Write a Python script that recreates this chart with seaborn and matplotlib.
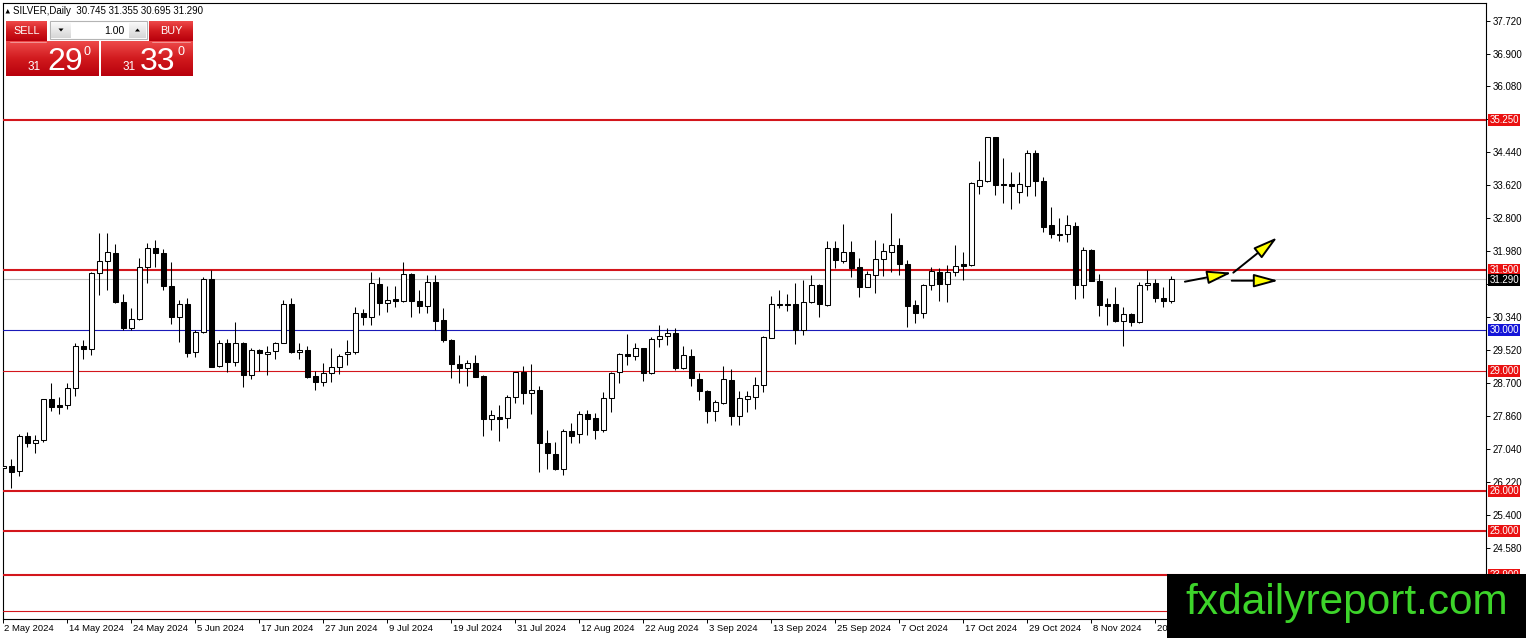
import numpy as np
import matplotlib
matplotlib.use("Agg")
import matplotlib.pyplot as plt
import matplotlib.transforms as mtransforms
from matplotlib.patches import Rectangle, Polygon
from matplotlib.colors import LinearSegmentedColormap
import seaborn as sns

# ---------------- data ----------------
opens = [26.58, 26.62, 26.50, 27.38, 27.19, 27.27, 28.28, 28.13, 28.13, 28.56,
         29.61, 29.53, 31.44, 31.74, 31.92, 30.72, 30.05, 30.29, 31.59, 32.05,
         31.92, 31.11, 30.34, 30.67, 29.45, 29.95, 31.28, 29.12, 29.68, 29.22,
         29.68, 28.90, 29.51, 29.40, 29.49, 29.69, 30.67, 29.45, 29.51, 28.86,
         28.71, 28.93, 29.09, 29.40, 29.47, 30.43, 30.34, 31.16, 30.69, 30.78,
         30.74, 31.41, 30.73, 30.62, 31.20, 30.26, 29.76, 29.16, 29.07, 29.18,
         28.86, 27.78, 27.85, 27.81, 28.33, 28.96, 28.45, 28.52, 27.20, 26.92,
         26.54, 27.49, 27.41, 27.92, 27.81, 27.52, 28.31, 28.97, 29.40, 29.37,
         29.55, 28.93, 29.78, 29.85, 29.93, 29.07, 29.36, 28.79, 28.50, 27.98,
         28.20, 28.76, 27.87, 28.28, 28.35, 28.64, 29.80, 30.67, 30.67, 30.65,
         30.01, 30.72, 31.13, 30.63, 32.05, 31.74, 31.96, 31.57, 31.09, 31.38,
         31.77, 31.96, 32.13, 31.65, 30.63, 30.43, 31.13, 31.46, 31.15, 31.45,
         31.65, 31.63, 33.61, 33.73, 34.81, 33.65, 33.64, 33.46, 33.61, 34.41,
         33.72, 32.63, 32.41, 32.40, 32.60, 31.12, 32.00, 31.22, 30.66, 30.65,
         30.24, 30.40, 30.20, 31.12, 31.17, 30.80, 30.745]
highs = [26.78, 26.79, 27.43, 27.46, 27.39, 28.30, 28.70, 28.35, 28.68, 29.69,
         29.76, 31.46, 32.44, 32.44, 32.15, 30.92, 30.55, 31.80, 32.17, 32.25,
         32.02, 31.71, 30.76, 30.82, 30.01, 31.32, 31.51, 29.76, 29.78, 30.22,
         29.70, 29.55, 29.53, 29.60, 29.72, 30.76, 30.80, 29.68, 29.61, 29.00,
         29.18, 29.55, 29.41, 29.76, 30.59, 30.53, 31.45, 31.34, 31.11, 31.11,
         31.70, 31.43, 31.02, 31.38, 31.38, 30.55, 29.78, 29.39, 29.26, 29.39,
         28.88, 28.02, 28.14, 28.38, 28.97, 29.11, 29.16, 28.62, 27.52, 27.23,
         27.54, 27.70, 27.99, 28.01, 27.93, 28.46, 28.97, 29.43, 29.90, 29.68,
         29.57, 29.83, 30.13, 30.05, 30.05, 29.61, 29.53, 28.93, 28.51, 28.27,
         29.11, 29.05, 28.49, 28.49, 28.83, 29.86, 30.86, 31.02, 30.92, 31.17,
         31.26, 31.38, 31.16, 32.24, 32.24, 32.65, 32.24, 31.80, 31.49, 32.25,
         32.17, 32.92, 32.30, 31.76, 30.76, 31.15, 31.59, 31.56, 31.63, 32.13,
         31.96, 33.69, 34.22, 34.81, 34.83, 34.29, 33.96, 33.96, 34.50, 34.50,
         33.83, 33.08, 32.81, 32.88, 32.71, 32.09, 32.03, 31.40, 30.80, 31.07,
         30.59, 30.43, 31.20, 31.51, 31.28, 31.07, 31.355]
lows = [26.05, 26.06, 26.38, 27.10, 26.95, 27.23, 28.00, 27.92, 28.05, 28.37,
        29.30, 29.39, 30.89, 31.01, 30.69, 30.01, 30.01, 30.27, 31.19, 31.59,
        31.01, 30.15, 29.72, 29.33, 29.33, 29.93, 29.08, 29.08, 28.97, 29.12,
        28.60, 28.78, 29.00, 28.89, 29.30, 29.68, 29.43, 29.30, 28.81, 28.52,
        28.62, 28.72, 28.91, 29.14, 29.41, 30.14, 30.14, 30.38, 30.47, 30.59,
        30.72, 30.34, 30.44, 30.44, 30.01, 29.70, 28.82, 28.70, 28.62, 28.83,
        27.37, 27.52, 27.25, 27.58, 28.20, 28.17, 27.91, 26.46, 26.55, 26.52,
        26.40, 27.20, 27.19, 27.39, 27.29, 27.46, 27.97, 28.68, 29.15, 29.26,
        28.75, 28.91, 29.59, 29.64, 29.01, 29.03, 28.62, 28.27, 27.69, 27.73,
        28.17, 27.64, 27.64, 27.97, 28.03, 28.47, 29.80, 30.55, 30.49, 29.66,
        29.89, 30.69, 30.33, 30.61, 31.55, 31.69, 31.32, 30.84, 31.07, 30.94,
        31.36, 31.46, 31.38, 30.08, 30.18, 30.32, 31.01, 30.74, 30.72, 31.36,
        31.26, 31.61, 33.39, 33.71, 33.38, 33.17, 33.03, 33.17, 33.36, 33.36,
        32.46, 32.30, 32.24, 32.21, 30.78, 30.82, 31.22, 30.37, 30.14, 30.22,
        29.62, 30.12, 30.18, 31.01, 30.72, 30.59, 30.695]
closes = [26.63, 26.48, 27.38, 27.19, 27.28, 28.28, 28.10, 28.10, 28.56, 29.60,
          29.53, 31.44, 31.74, 31.95, 30.72, 30.05, 30.29, 31.59, 32.05, 31.92,
          31.11, 30.34, 30.67, 29.43, 29.95, 31.28, 29.10, 29.68, 29.22, 29.68,
          28.90, 29.51, 29.43, 29.47, 29.69, 30.67, 29.47, 29.51, 28.85, 28.71,
          28.93, 29.08, 29.37, 29.47, 30.43, 30.34, 31.17, 30.69, 30.76, 30.73,
          31.41, 30.74, 30.62, 31.20, 30.24, 29.76, 29.16, 29.07, 29.18, 28.85,
          27.78, 27.88, 27.80, 28.33, 28.96, 28.45, 28.52, 27.19, 26.94, 26.54,
          27.49, 27.38, 27.92, 27.78, 27.52, 28.31, 28.95, 29.40, 29.37, 29.55,
          28.93, 29.78, 29.86, 29.93, 29.06, 29.39, 28.81, 28.50, 27.98, 28.21,
          28.78, 27.87, 28.31, 28.37, 28.64, 29.84, 30.65, 30.63, 30.63, 30.01,
          30.72, 31.13, 30.65, 32.05, 31.76, 31.96, 31.55, 31.09, 31.41, 31.77,
          31.98, 32.13, 31.65, 30.62, 30.43, 31.13, 31.48, 31.15, 31.45, 31.61,
          31.61, 33.67, 33.75, 34.81, 33.62, 33.62, 33.61, 33.64, 34.41, 33.73,
          32.59, 32.40, 32.38, 32.63, 31.12, 32.00, 31.24, 30.63, 30.62, 30.24,
          30.40, 30.20, 31.12, 31.17, 30.80, 30.74, 31.29]

date_tick_bars = [0, 8, 16, 24, 32, 40, 48, 56, 64, 72, 80, 88, 96, 104, 112,
                  120, 128, 136, 144]
date_tick_labels = ["2 May 2024", "14 May 2024", "24 May 2024", "5 Jun 2024",
                    "17 Jun 2024", "27 Jun 2024", "9 Jul 2024", "19 Jul 2024",
                    "31 Jul 2024", "12 Aug 2024", "22 Aug 2024", "3 Sep 2024",
                    "13 Sep 2024", "25 Sep 2024", "7 Oct 2024", "17 Oct 2024",
                    "29 Oct 2024", "8 Nov 2024", "20 Nov 2024"]
price_ticks = [37.72, 36.90, 36.08, 35.26, 34.44, 33.62, 32.80, 31.98, 31.16,
               30.34, 29.52, 28.70, 27.86, 27.04, 26.22, 25.40, 24.58, 23.76]
# tick labels that sit fully under a coloured price box are left blank
hidden_tick_labels = [35.26, 31.16, 23.76]

level_values = [35.25, 31.50, 30.00, 29.00, 26.00, 25.00, 23.90, 23.00]
level_kinds = ["red", "red", "blue", "red", "red", "red", "red", "red"]
level_thick = [True, True, False, False, True, True, True, False]
level_boxed = [True, True, True, True, True, True, True, False]

current_price = 31.29
header_text = "SILVER,Daily  30.745 31.355 30.695 31.290"
bid_parts = ("31", "29", "0")
ask_parts = ("31", "33", "0")
lot_text = "1.00"

# yellow arrows (bar index, price) start -> end
arrow_starts = [(147.7, 31.215), (153.75, 31.44), (153.55, 31.24)]
arrow_ends = [(153.55, 31.44), (159.25, 32.32), (159.38, 31.24)]

# ---------------- styling ----------------
sns.set_theme(style="white")
plt.rcParams["font.family"] = ["Liberation Sans", "DejaVu Sans"]

W_PX, H_PX = 1526, 638
fig = plt.figure(figsize=(W_PX / 100, H_PX / 100), dpi=100)
fig.patch.set_facecolor("white")

left_px, right_px, top_px, bottom_px = 2.5, 1486, 3, 619
ax = fig.add_axes([left_px / W_PX, 1 - bottom_px / H_PX,
                   (right_px - left_px) / W_PX, (bottom_px - top_px) / H_PX])
ax.set_facecolor("white")

n = len(opens)
x = np.arange(n)
o = np.array(opens); h = np.array(highs); l = np.array(lows); c = np.array(closes)
up = c >= o

# wicks
ax.vlines(x, l, h, color="black", linewidth=0.75, zorder=5)
# bodies
body_bottom = np.minimum(o, c)
body_height = np.maximum(np.abs(c - o), 0.012)
ax.bar(x, body_height, bottom=body_bottom, width=0.6,
       color=np.where(up, "white", "black"), edgecolor="black",
       linewidth=0.75, zorder=6)

# horizontal levels
LINE_COL = {"red": "#d3161c", "blue": "#1a1ab8"}
BOX_COL = {"red": "#ea1111", "blue": "#1414d8"}
for v, k, t in zip(level_values, level_kinds, level_thick):
    ax.axhline(v, color=LINE_COL[k], linewidth=1.5 if t else 0.8, zorder=3)
ax.axhline(current_price, color="#c0c0c0", linewidth=0.8, zorder=2)

# axes ranges (pixel-matched)
ax.set_xlim((left_px - 3.3) / 8, (right_px - 3.3) / 8)
ax.set_ylim(37.72 - (bottom_px - 20.7) / 40.12, 37.72 + (20.7 - top_px) / 40.12)

for s in ax.spines.values():
    s.set_color("black")
    s.set_linewidth(0.8)

# y axis on the right
ax.yaxis.tick_right()
ax.set_yticks(price_ticks)
ax.set_yticklabels(["" if v in hidden_tick_labels else f"{v:.3f}" for v in price_ticks])
ax.tick_params(axis="y", direction="out", length=3, width=0.7, pad=1.5,
               labelsize=7, colors="black", right=True, left=False)

# x axis
ax.set_xticks(date_tick_bars)
ax.set_xticklabels(date_tick_labels)
ax.tick_params(axis="x", direction="out", length=3, width=0.7, pad=0.5,
               labelsize=6.8, colors="black", bottom=True)
offset = mtransforms.ScaledTranslation(0.012, 0, fig.dpi_scale_trans)
for lab in ax.get_xticklabels():
    lab.set_horizontalalignment("left")
    lab.set_transform(lab.get_transform() + offset)
ax.grid(False)

# right-axis level labels
def axis_box(val, text, fc, dy=0.0):
    ax.annotate(text, xy=(1, val), xycoords=("axes fraction", "data"),
                xytext=(2.3, dy), textcoords="offset points", ha="left",
                va="center", fontsize=7, color="white", annotation_clip=False,
                bbox=dict(boxstyle="square,pad=0.1", fc=fc, ec="none"),
                zorder=30)

for v, k, b in zip(level_values, level_kinds, level_boxed):
    if b:
        axis_box(v, f"{v:.3f}", BOX_COL[k])
axis_box(current_price, f"{current_price:.3f}", "black", dy=-0.8)

# yellow arrows
for s0, e0 in zip(arrow_starts, arrow_ends):
    ax.annotate("", xy=e0, xytext=s0, annotation_clip=False,
                arrowprops=dict(arrowstyle="-|>,head_length=1.25,head_width=0.34",
                                lw=1.4, ec="black", fc="#ffff00",
                                shrinkA=0, shrinkB=0), zorder=20)

# ---------------- overlay (pixel coordinates) ----------------
ov = fig.add_axes([0, 0, 1, 1], zorder=50)
ov.set_xlim(0, W_PX)
ov.set_ylim(H_PX, 0)
ov.axis("off")
ov.patch.set_visible(False)

red_grad = LinearSegmentedColormap.from_list("rg", ["#ee4a4a", "#d11a1e", "#b8000c"])
grey_grad = LinearSegmentedColormap.from_list("gg", ["#fafafa", "#d6d6d6"])
grad = np.linspace(0, 1, 64).reshape(-1, 1)

def grad_rect(x0, x1, y0, y1, cmap):
    ov.imshow(grad, extent=[x0, x1, y1, y0], cmap=cmap, aspect="auto",
              interpolation="bilinear", zorder=2)

# header line
ov.add_patch(Polygon([(5.5, 13.5), (10, 13.5), (7.75, 9)], closed=True,
                     fc="black", ec="none", zorder=3))
ov.text(13, 11.5, header_text, fontsize=7, va="center", ha="left", color="black")

# SELL / BUY buttons
grad_rect(6, 47, 21, 41, red_grad)
grad_rect(149, 193, 21, 41, red_grad)
ov.text(26.5, 31, "SELL", color="white", fontsize=7.8, ha="center", va="center", zorder=4)
ov.text(171, 31, "BUY", color="white", fontsize=7.8, ha="center", va="center", zorder=4)
# lot spinner
ov.add_patch(Rectangle((50, 21), 97, 18, fc="white", ec="#b4b4b4", lw=0.8, zorder=2))
grad_rect(51, 71, 22, 38, grey_grad)
grad_rect(129, 146, 22, 38, grey_grad)
ov.add_patch(Polygon([(58.5, 28.5), (63.5, 28.5), (61, 31.5)], fc="black", ec="none", zorder=4))
ov.add_patch(Polygon([(135, 31.5), (140, 31.5), (137.5, 28.5)], fc="black", ec="none", zorder=4))
ov.text(124, 30.5, lot_text, fontsize=7.5, ha="right", va="center", color="black", zorder=4)
# price boxes
grad_rect(6, 99, 41, 76, red_grad)
grad_rect(101, 193, 41, 76, red_grad)
ov.plot([10, 46], [41.5, 41.5], color="#f3a0a0", lw=0.6, zorder=3)
ov.plot([152, 190], [41.5, 41.5], color="#f3a0a0", lw=0.6, zorder=3)
for (small, big, sup), xs in ((bid_parts, (28, 47, 84)), (ask_parts, (123, 140, 178))):
    ov.text(xs[0], 70.5, small, color="white", fontsize=8.5, ha="left", va="baseline", zorder=4)
    ov.text(xs[1], 69.5, big, color="white", fontsize=23, ha="left", va="baseline", zorder=4)
    ov.text(xs[2], 55, sup, color="white", fontsize=9, ha="left", va="baseline", zorder=4)

# watermark box
ov.add_patch(Rectangle((1167, 574), W_PX - 1167, H_PX - 574, fc="black", ec="none", zorder=5))
ov.text(1185, 614, "fxdailyreport.com", color="#3dd42a", fontsize=30.5,
        ha="left", va="baseline", zorder=6)

ov.set_xlim(0, W_PX)
ov.set_ylim(H_PX, 0)

fig.savefig("out.png", dpi=100, facecolor="white")
